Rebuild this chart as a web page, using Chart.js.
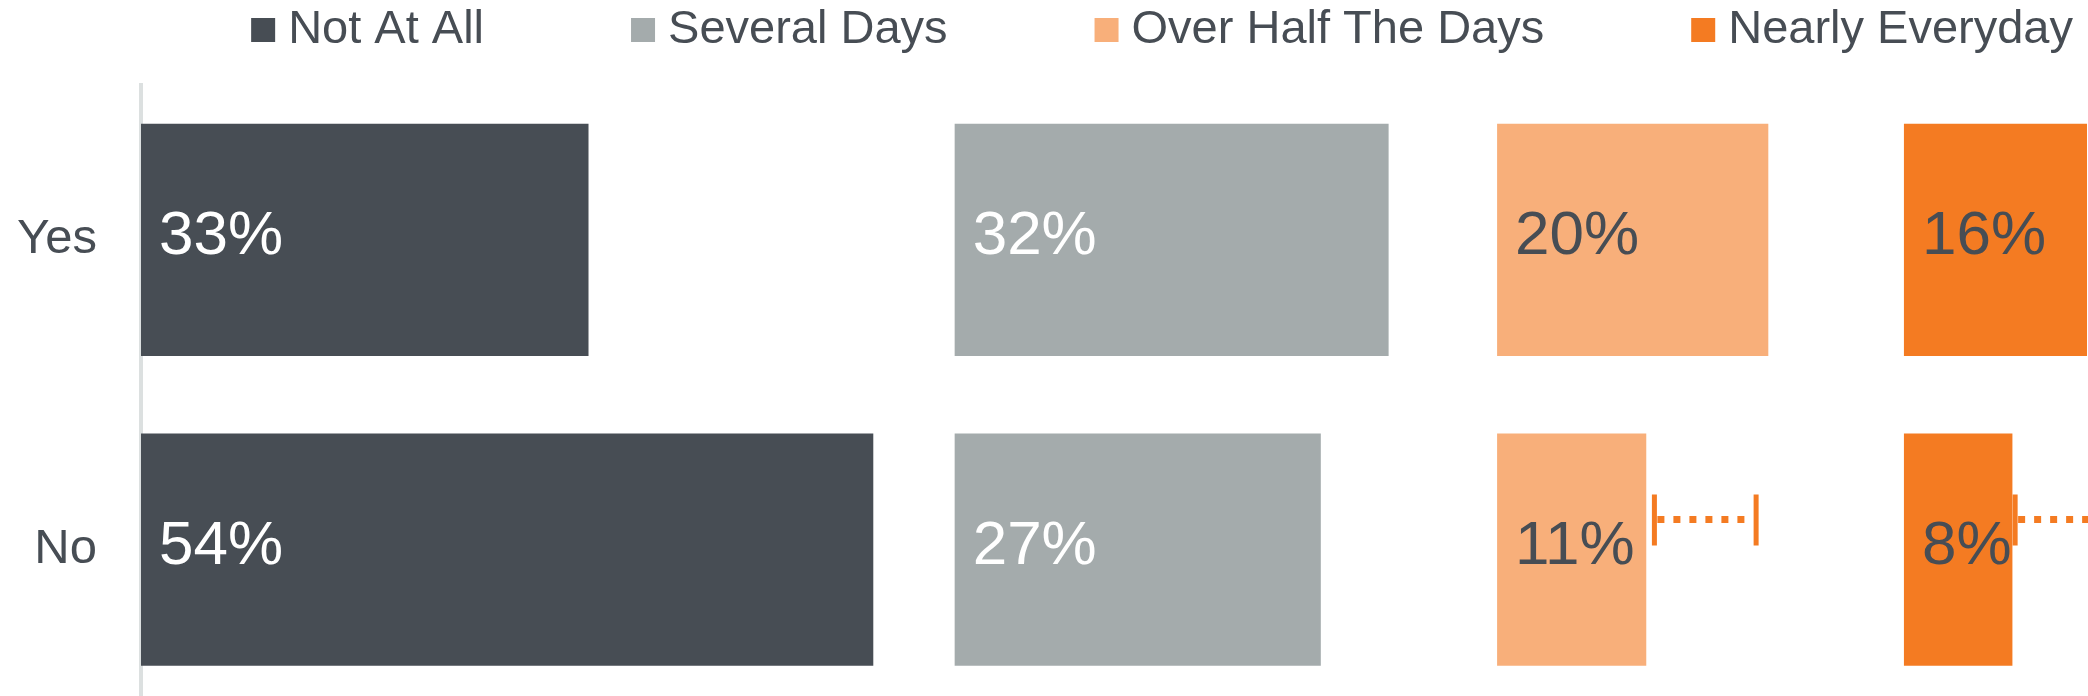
<!DOCTYPE html>
<html>
<head>
<meta charset="utf-8">
<script src="https://cdn.jsdelivr.net/npm/chart.js@4.4.0/dist/chart.umd.min.js"></script>
<style>
  html, body { margin: 0; padding: 0; background: #fff; overflow: hidden; }
  #phqChart { display: block; width: 2088px; height: 705px; }
</style>
</head>
<body>
<canvas id="phqChart" width="2088" height="705"></canvas>
<script>
const categories = ['Yes', 'No'];
const seriesNames = ['Not At All', 'Several Days', 'Over Half The Days', 'Nearly Everyday'];
const notAtAll = [33, 54];
const severalDays = [32, 27];
const overHalf = [20, 11];
const nearlyEveryday = [16, 8];
// every answer has its own lane along the x axis
const laneStart = [0, 60, 100, 130];
// dotted range markers, only on the "No" row
const notAtAllRange = [null, null];
const severalDaysRange = [null, null];
const overHalfRange = [null, [11.6, 19.1]];
const everydayRange = [null, [8.2, 15.7]];

const seriesValues = [notAtAll, severalDays, overHalf, nearlyEveryday];
const seriesRanges = [notAtAllRange, severalDaysRange, overHalfRange, everydayRange];
const colors = ['#474d54', '#a4abac', '#f8af7a', '#f47b22'];
const labelColors = ['#ffffff', '#ffffff', '#474d54', '#474d54'];
const textColor = '#474d54';
const FONT = '"Liberation Sans", Arial, sans-serif';

// percentage labels inside the bars, left aligned
const valueLabels = {
  id: 'valueLabels',
  afterDatasetsDraw(chart) {
    const ctx = chart.ctx;
    ctx.save();
    ctx.font = '62px ' + FONT;
    ctx.textAlign = 'left';
    ctx.textBaseline = 'middle';
    chart.data.datasets.forEach((ds, i) => {
      chart.getDatasetMeta(i).data.forEach((bar, j) => {
        ctx.fillStyle = labelColors[i];
        ctx.fillText(seriesValues[i][j] + '%', bar.base + 18, bar.y - 3);
      });
    });
    ctx.restore();
  }
};

// dotted range with end caps
const rangeMarks = {
  id: 'rangeMarks',
  afterDatasetsDraw(chart) {
    const ctx = chart.ctx;
    const x = chart.scales.x, y = chart.scales.y;
    ctx.save();
    ctx.strokeStyle = colors[3];
    seriesRanges.forEach((ranges, i) => {
      ranges.forEach((r, j) => {
        if (!r) return;
        const x1 = x.getPixelForValue(laneStart[i] + r[0]);
        const x2 = x.getPixelForValue(laneStart[i] + r[1]);
        const yy = y.getPixelForValue(j - 0.097);
        ctx.setLineDash([]);
        ctx.lineWidth = 5;
        ctx.beginPath();
        ctx.moveTo(x1, yy - 25); ctx.lineTo(x1, yy + 26);
        ctx.moveTo(x2, yy - 25); ctx.lineTo(x2, yy + 26);
        ctx.stroke();
        ctx.setLineDash([7, 9]);
        ctx.lineWidth = 7;
        ctx.beginPath();
        ctx.moveTo(x1 + 3, yy); ctx.lineTo(x2 - 3, yy);
        ctx.stroke();
      });
    });
    ctx.restore();
  }
};

// legend row across the top, flush to the right
const topLegend = {
  id: 'topLegend',
  afterDraw(chart) {
    const ctx = chart.ctx;
    ctx.save();
    ctx.font = '47px ' + FONT;
    ctx.textBaseline = 'middle';
    ctx.textAlign = 'left';
    const box = 24, gap = 13, spacing = 147;
    const widths = seriesNames.map(n => box + gap + ctx.measureText(n).width);
    const total = widths.reduce((a, b) => a + b, 0) + spacing * (seriesNames.length - 1);
    let cx = chart.width - 15 - total;
    seriesNames.forEach((n, i) => {
      ctx.fillStyle = colors[i];
      ctx.fillRect(cx, 18, box, box);
      ctx.fillStyle = textColor;
      ctx.fillText(n, cx + box + gap, 30);
      cx += widths[i] + spacing;
    });
    ctx.restore();
  }
};

new Chart(document.getElementById('phqChart'), {
  type: 'bar',
  data: {
    labels: categories,
    datasets: seriesValues.map((vals, i) => ({
      label: seriesNames[i],
      data: vals.map(v => [laneStart[i], laneStart[i] + v]),
      backgroundColor: colors[i],
      grouped: false,
      barPercentage: 0.75,
      categoryPercentage: 1
    }))
  },
  options: {
    indexAxis: 'y',
    responsive: false,
    devicePixelRatio: 1,
    animation: false,
    layout: { autoPadding: false, padding: { top: 85, right: 1, bottom: 0, left: 0 } },
    plugins: { legend: { display: false }, tooltip: { enabled: false } },
    scales: {
      x: { display: false, min: 0, max: 143.5 },
      y: {
        // hidden tick marks give the gap between labels and axis
        grid: { display: false, drawTicks: true, tickLength: 44 },
        border: { display: true, color: '#dce0e0', width: 4 },
        ticks: { color: textColor, font: { family: FONT, size: 49, lineHeight: 0.02 }, padding: 0 },
        afterFit(scale) { scale.width = 141; }
      }
    }
  },
  plugins: [valueLabels, rangeMarks, topLegend]
});
</script>
</body>
</html>
